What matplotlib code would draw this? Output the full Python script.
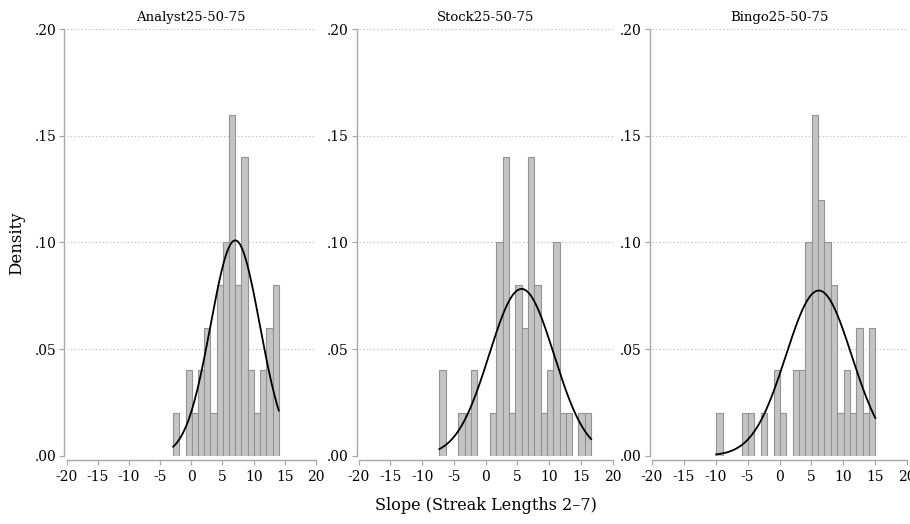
"""Three density histograms of streak slopes with normal overlays."""

import numpy as np
from matplotlib import pyplot as plt

# Histogram data: start of first bin, bin width 1, density per bin
TITLES = ["Analyst25-50-75", "Stock25-50-75", "Bingo25-50-75"]

ANALYST_START = -2.9
ANALYST_DENSITY = [.02, 0, .04, .02, .04, .06, .02, .08, .10, .16, .08, .14,
                   .04, .02, .04, .06, .08]

STOCK_START = -7.3
STOCK_DENSITY = [.04, 0, 0, .02, .02, .04, 0, 0, .02, .10, .14, .02, .08, .06,
                 .14, .08, .02, .04, .10, .02, .02, 0, .02, .02]

BINGO_START = -9.9
BINGO_DENSITY = [.02, 0, 0, 0, .02, .02, 0, .02, 0, .04, .02, 0, .04, .04,
                 .10, .16, .12, .10, .08, .02, .04, .02, .06, .02, .06]

# normal fit (mean, sd)
NORMAL_FIT = [(7.05, 3.95), (5.65, 5.1), (6.15, 5.15)]

BIN_WIDTH = 0.996
YTICKS = [0, .05, .10, .15, .20]
YTICK_LABELS = [".00", ".05", ".10", ".15", ".20"]
XTICKS = [-20, -15, -10, -5, 0, 5, 10, 15, 20]

BAR_FILL = "#c4c4c4"
BAR_EDGE = "#939393"
AXIS_GRAY = "#a8a8a8"
FONT = ["DejaVu Serif"]

W, H = 910, 524
# panel placement in pixels: (x of -20, x of 20)
PANELS_PX = [(66.5, 316.0), (358.7, 612.7), (651.7, 907.3)]
Y0_PX, Y20_PX = 455.7, 29.3

plt.rcParams["font.family"] = FONT

fig = plt.figure(figsize=(W / 100, H / 100), dpi=100)

starts = [ANALYST_START, STOCK_START, BINGO_START]
densities = [ANALYST_DENSITY, STOCK_DENSITY, BINGO_DENSITY]

for i, (x_lo, x_hi) in enumerate(PANELS_PX):
    ax = fig.add_axes([x_lo / W, 1 - Y0_PX / H, (x_hi - x_lo) / W, (Y0_PX - Y20_PX) / H])

    heights = np.asarray(densities[i], dtype=float)
    edges = starts[i] + BIN_WIDTH * np.arange(len(heights))
    keep = heights > 0
    ax.bar(edges[keep], heights[keep], width=BIN_WIDTH, align="edge",
           color=BAR_FILL, edgecolor=BAR_EDGE, linewidth=0.8, zorder=2)

    mu, sd = NORMAL_FIT[i]
    xs = np.linspace(edges[0], edges[-1] + BIN_WIDTH, 300)
    ys = np.exp(-0.5 * ((xs - mu) / sd) ** 2) / (sd * np.sqrt(2 * np.pi))
    ax.plot(xs, ys, color="black", linewidth=1.3, zorder=3)

    ax.set_xlim(-20, 20)
    ax.set_ylim(0, 0.2)
    ax.set_xticks(XTICKS)
    ax.set_xticklabels([str(t) for t in XTICKS], fontsize=7.2)
    ax.set_yticks(YTICKS)
    ax.set_yticklabels(YTICK_LABELS, fontsize=6.8)

    ax.grid(axis="y", linestyle=(0, (1, 2.2)), color="#b8b8b8", linewidth=0.8, zorder=0)
    ax.get_ygridlines()[0].set_visible(False)
    ax.set_axisbelow(True)

    for side in ("top", "right"):
        ax.spines[side].set_visible(False)
    ax.spines["left"].set_position(("outward", 1.5))
    ax.spines["bottom"].set_position(("outward", 3))
    ax.spines["left"].set_bounds(0, 0.2)
    ax.spines["bottom"].set_bounds(-20, 20)
    for side in ("left", "bottom"):
        ax.spines[side].set_color(AXIS_GRAY)
        ax.spines[side].set_linewidth(1.0)
    ax.tick_params(axis="both", direction="out", length=3.5, width=0.9,
                   color=AXIS_GRAY, pad=2)
    ax.tick_params(axis="x", pad=4)

    ax.set_title(TITLES[i], fontsize=9.5, pad=6)

fig.text(17 / W, 1 - 243 / H, "Density", rotation=90, fontsize=12,
         ha="center", va="center")
fig.text(486 / W, 1 - 505 / H, "Slope (Streak Lengths 2\u20137)", fontsize=11.5,
         ha="center", va="center")

fig.savefig("out.png", dpi=100)
